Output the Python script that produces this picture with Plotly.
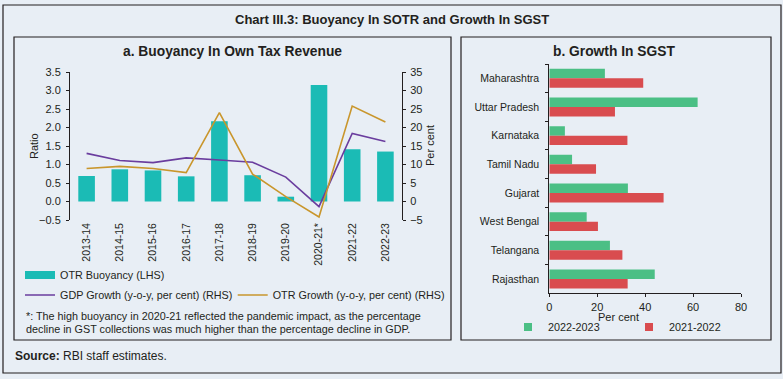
import plotly.graph_objects as go

W, H = 783, 379

# ---------------- data ----------------
years = ['2013-14', '2014-15', '2015-16', '2016-17', '2017-18', '2018-19',
         '2019-20', '2020-21*', '2021-22', '2022-23']
otr_buoyancy = [0.69, 0.87, 0.84, 0.68, 2.17, 0.71, 0.13, 3.15, 1.41, 1.35]
gdp_growth = [13.0, 11.1, 10.5, 11.8, 11.2, 10.6, 6.6, -1.4, 18.4, 16.2]
otr_growth = [8.9, 9.5, 8.9, 7.8, 24.0, 7.4, 1.3, -4.2, 25.8, 21.5]

states = ['Maharashtra', 'Uttar Pradesh', 'Karnataka', 'Tamil Nadu',
          'Gujarat', 'West Bengal', 'Telangana', 'Rajasthan']
sgst_2022_23 = [23.2, 61.9, 6.5, 9.5, 32.8, 15.6, 25.3, 44.0]
sgst_2021_22 = [39.2, 27.4, 32.6, 19.5, 47.7, 20.3, 30.5, 32.7]

# ---------------- style ----------------
BG = '#e8eef5'
INK = '#231f20'
TEAL = '#1bbbb5'
PURPLE = '#6a3d9e'
GOLD = '#c9962c'
GREEN = '#4bbf85'
RED = '#d94c4f'
FONT = 'Arial, Liberation Sans, sans-serif'


def px(x):
    return x / W


def py(y):
    return (H - y) / H


fig = go.Figure()

# Panel a
fig.add_trace(go.Bar(x=years, y=otr_buoyancy, width=0.5, marker_color=TEAL,
                     marker_line_width=0, name='OTR Buoyancy (LHS)',
                     showlegend=False, xaxis='x', yaxis='y'))
fig.add_trace(go.Scatter(x=years, y=gdp_growth, mode='lines',
                         line=dict(color=PURPLE, width=1.6),
                         name='GDP Growth (y-o-y, per cent) (RHS)',
                         legend='legend2', xaxis='x', yaxis='y2'))
fig.add_trace(go.Scatter(x=years, y=otr_growth, mode='lines',
                         line=dict(color=GOLD, width=1.6),
                         name='OTR Growth (y-o-y, per cent) (RHS)',
                         legend='legend3', xaxis='x', yaxis='y2'))
# legend swatch for bar (wide rectangle as in the reference)
fig.add_trace(go.Scatter(x=[None], y=[None], mode='lines',
                         line=dict(color=TEAL, width=8),
                         name='OTR Buoyancy (LHS)', legend='legend',
                         xaxis='x', yaxis='y'))

# Panel b
fig.add_trace(go.Bar(y=states, x=sgst_2022_23, orientation='h',
                     marker_color=GREEN, marker_line_width=0,
                     name='2022-2023', showlegend=False,
                     xaxis='x2', yaxis='y3'))
fig.add_trace(go.Bar(y=states, x=sgst_2021_22, orientation='h',
                     marker_color=RED, marker_line_width=0,
                     name='2021-2022', showlegend=False,
                     xaxis='x2', yaxis='y3'))
fig.add_trace(go.Scatter(x=[None], y=[None], mode='markers',
                         marker=dict(color=GREEN, symbol='square', size=8),
                         name='2022-2023', legend='legend4',
                         xaxis='x2', yaxis='y3'))
fig.add_trace(go.Scatter(x=[None], y=[None], mode='markers',
                         marker=dict(color=RED, symbol='square', size=8),
                         name='2021-2022', legend='legend4',
                         xaxis='x2', yaxis='y3'))

tickfont = dict(family=FONT, size=11, color=INK)
base = dict(showgrid=False, zeroline=False, linecolor=INK, linewidth=1,
            tickcolor=INK, tickwidth=1, automargin=False)

lg_font = dict(family=FONT, size=10.8, color=INK)

fig.update_layout(
    width=W, height=H,
    margin=dict(l=0, r=0, t=0, b=0, autoexpand=False),
    paper_bgcolor=BG, plot_bgcolor='rgba(0,0,0,0)',
    font=dict(family=FONT, size=11, color=INK),
    barmode='group', bargap=0.34, bargroupgap=0,
    xaxis=dict(domain=[px(70), px(402)], anchor='y', type='category',
               showline=False, ticks='', tickangle=-90,
               tickfont=dict(family=FONT, size=10.5, color=INK), **base),
    xaxis3=dict(overlaying='x', anchor='free', position=py(201.5),
                range=[-0.5, 9.5], tick0=-0.5, dtick=1, showticklabels=False,
                ticks='outside', ticklen=4, showline=True, **base),
    yaxis=dict(domain=[py(220), py(72)], anchor='x', range=[-0.5, 3.5],
               dtick=0.5, tickformat='.1f', showline=True, ticks='outside',
               ticklen=3, ticklabelstandoff=3, tickfont=tickfont, **base),
    yaxis2=dict(overlaying='y', side='right', anchor='x', range=[-5, 35],
                dtick=5, showline=True, ticks='outside', ticklen=3,
                ticklabelstandoff=2, tickfont=tickfont, **base),
    xaxis2=dict(domain=[px(549.3), px(741)], anchor='y3', range=[0, 80],
                dtick=20, showline=True, ticks='outside', ticklen=3,
                tickfont=tickfont, **base),
    yaxis3=dict(domain=[py(293.3), py(64)], anchor='x2', type='category',
                autorange='reversed', showline=True, ticks='outside',
                ticklen=3, tickson='boundaries', ticklabelstandoff=7,
                tickfont=dict(family=FONT, size=10.5, color=INK), **base),
    legend=dict(x=px(20), y=py(275), xanchor='left', yanchor='middle',
                bgcolor='rgba(0,0,0,0)', font=lg_font),
    legend2=dict(x=px(20), y=py(295), xanchor='left', yanchor='middle',
                 bgcolor='rgba(0,0,0,0)', font=lg_font),
    legend3=dict(x=px(232.7), y=py(295), xanchor='left', yanchor='middle',
                 bgcolor='rgba(0,0,0,0)', font=lg_font),
    legend4=dict(x=px(508), y=py(327), xanchor='left', yanchor='middle',
                 orientation='h', entrywidth=76, bgcolor='rgba(0,0,0,0)',
                 font=lg_font),
)

# frames
frame = dict(type='rect', xref='paper', yref='paper',
             line=dict(color=INK, width=1.2), fillcolor='rgba(0,0,0,0)', layer='below')
fig.add_shape(x0=px(3), x1=px(781), y0=py(373), y1=py(5), **frame)
fig.add_shape(x0=px(14), x1=px(451), y0=py(340), y1=py(37), **frame)
fig.add_shape(x0=px(461), x1=px(771), y0=py(340), y1=py(37), **frame)

ann = dict(xref='paper', yref='paper', showarrow=False)
fig.add_annotation(x=px(392), y=py(20), text='<b>Chart III.3: Buoyancy In SOTR and Growth In SGST</b>',
                   font=dict(family=FONT, size=13, color=INK), xanchor='center', yanchor='middle', **ann)
fig.add_annotation(x=px(233), y=py(51), text='<b>a. Buoyancy In Own Tax Revenue</b>',
                   font=dict(family=FONT, size=13.8, color=INK), xanchor='center', yanchor='middle', **ann)
fig.add_annotation(x=px(614), y=py(51), text='<b>b. Growth In SGST</b>',
                   font=dict(family=FONT, size=13.8, color=INK), xanchor='center', yanchor='middle', **ann)
fig.add_annotation(x=px(34), y=py(146), text='Ratio', textangle=-90,
                   font=dict(family=FONT, size=11, color=INK), xanchor='center', yanchor='middle', **ann)
fig.add_annotation(x=px(430), y=py(146), text='Per cent', textangle=-90,
                   font=dict(family=FONT, size=11, color=INK), xanchor='center', yanchor='middle', **ann)
fig.add_annotation(x=px(618), y=py(317), text='Per cent',
                   font=dict(family=FONT, size=11, color=INK), xanchor='center', yanchor='middle', **ann)
fig.add_annotation(x=px(24), y=py(316),
                   text='*: The high buoyancy in 2020-21 reflected the pandemic impact, as the percentage',
                   font=dict(family=FONT, size=10.8, color=INK), xanchor='left', yanchor='middle', **ann)
fig.add_annotation(x=px(24), y=py(329),
                   text='decline in GST collections was much higher than the percentage decline in GDP.',
                   font=dict(family=FONT, size=10.8, color=INK), xanchor='left', yanchor='middle', **ann)
fig.add_annotation(x=px(13), y=py(356), text='<b>Source:</b> RBI staff estimates.',
                   font=dict(family=FONT, size=12, color=INK), xanchor='left', yanchor='middle', **ann)

fig.write_html('out.html', config={'displayModeBar': False},
               post_script="document.body.style.margin='0';document.body.style.background='%s';" % BG)
